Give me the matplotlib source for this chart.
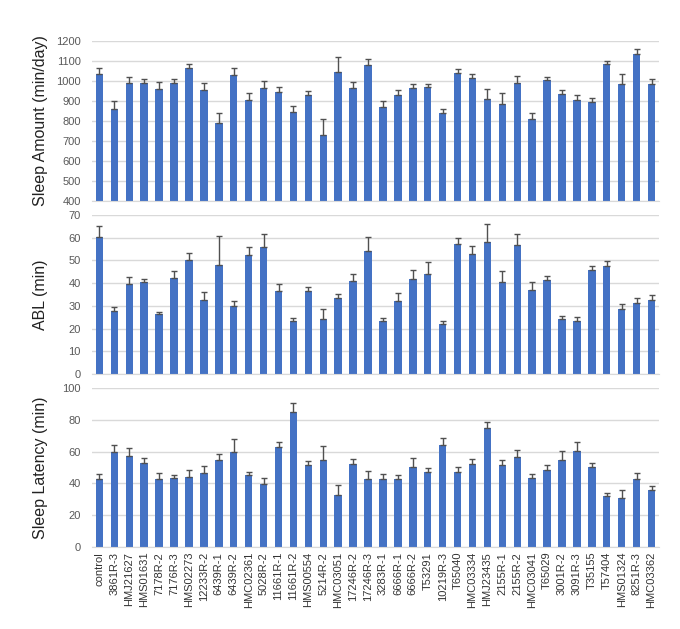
import numpy as np
import matplotlib.pyplot as plt

plt.rcParams['font.family'] = ['Liberation Sans', 'DejaVu Sans']

# strain names along the x axis
strains = ['control', '3861R-3', 'HMJ21627', 'HMS01631', '7178R-2', '7176R-3',
           'HMS02273', '12233R-2', '6439R-1', '6439R-2', 'HMC02361', '5028R-2',
           '11661R-1', '11661R-2', 'HMS00554', '5214R-2', 'HMC03051', '17246R-2',
           '17246R-3', '3283R-1', '6666R-1', '6666R-2', 'T53291', '10219R-3',
           'T65040', 'HMC03334', 'HMJ23435', '2155R-1', '2155R-2', 'HMC03041',
           'T65029', '3001R-2', '3091R-3', 'T35155', 'T57404', 'HMS01324',
           '8251R-3', 'HMC03362']

# sleep amount (min/day) and its upper error
sleep_amount = [1035, 862, 992, 992, 960, 990, 1067, 955, 792, 1030, 907, 967,
                945, 847, 930, 730, 1045, 965, 1080, 870, 932, 965, 970, 840,
                1042, 1015, 910, 885, 990, 812, 1005, 935, 905, 895, 1085, 987,
                1137, 985]
sleep_amount_err = [32, 36, 30, 20, 33, 18, 16, 37, 48, 33, 31, 33,
                    23, 30, 18, 82, 75, 28, 28, 28, 25, 18, 15, 18,
                    16, 18, 48, 53, 33, 28, 17, 22, 23, 18, 13, 48,
                    21, 23]

# ABL (min)
abl = [60.1, 27.7, 39.8, 40.4, 26.3, 42.3, 50.0, 32.5, 47.9, 29.9, 52.2, 55.8,
       36.4, 23.4, 36.6, 24.1, 33.4, 40.8, 54.1, 23.3, 32.2, 41.7, 44.0, 22.0,
       57.1, 52.7, 57.9, 40.5, 56.6, 36.9, 41.3, 24.1, 23.4, 45.7, 47.4, 28.5,
       31.2, 32.5]
abl_err = [5.2, 2.0, 2.9, 1.5, 1.1, 2.9, 3.4, 3.5, 13.0, 2.4, 3.7, 6.0,
           3.3, 1.3, 1.7, 4.6, 1.9, 3.1, 6.3, 1.4, 3.5, 4.1, 5.5, 1.4,
           2.9, 3.8, 8.0, 5.0, 5.0, 3.8, 1.9, 1.5, 1.8, 1.9, 2.5, 2.5,
           2.3, 2.3]

# sleep latency (min)
latency = [42.8, 59.5, 57.4, 52.8, 42.8, 43.4, 44.3, 46.6, 54.7, 59.7, 45.3, 39.5,
           62.8, 84.8, 51.6, 54.7, 32.4, 52.4, 43.0, 42.8, 42.8, 50.5, 47.4, 64.1,
           47.4, 52.0, 74.7, 51.6, 56.6, 43.6, 48.6, 54.9, 60.3, 50.3, 32.2, 30.9,
           42.8, 35.9]
latency_err = [2.9, 4.4, 4.6, 2.9, 3.5, 1.9, 3.9, 4.1, 3.5, 7.9, 1.9, 4.1,
               3.4, 6.0, 2.3, 9.0, 6.4, 2.7, 4.6, 2.9, 2.3, 5.2, 2.1, 4.4,
               2.9, 3.1, 4.2, 2.9, 4.6, 2.1, 3.0, 5.2, 5.5, 2.3, 1.6, 5.0,
               3.5, 2.3]

panels = [
    (sleep_amount, sleep_amount_err, 'Sleep Amount (min/day)', (400, 1200), 100),
    (abl, abl_err, 'ABL (min)', (0, 70), 10),
    (latency, latency_err, 'Sleep Latency (min)', (0, 100), 20),
]

bar_color = '#4472C4'
grid_color = '#d9d9d9'
text_color = '#595959'

fig = plt.figure(figsize=(6.8, 6.29), dpi=100)
boxes = [[0.1353, 0.6804, 0.8338, 0.2544],
         [0.1353, 0.4054, 0.8338, 0.2528],
         [0.1353, 0.1304, 0.8338, 0.2528]]

x = np.arange(len(strains))

for i, (vals, errs, label, ylim, step) in enumerate(panels):
    ax = fig.add_axes(boxes[i])
    vals = np.array(vals)
    bottom = ylim[0]
    ax.bar(x, vals - bottom, bottom=bottom, width=0.5, color=bar_color, zorder=2)
    ax.errorbar(x, vals, yerr=[np.zeros(len(vals)), errs], fmt='none',
                ecolor='#505050', elinewidth=1, capsize=2.5, capthick=1, zorder=3)
    ax.set_xlim(-0.5, len(strains) - 0.5)
    ax.set_ylim(*ylim)
    ax.set_yticks(np.arange(ylim[0], ylim[1] + 1, step))
    ax.yaxis.grid(True, color=grid_color, linewidth=1, zorder=0)
    ax.set_axisbelow(True)
    for s in ['top', 'right', 'left']:
        ax.spines[s].set_visible(False)
    ax.spines['bottom'].set_color(grid_color)
    ax.tick_params(axis='y', length=0, labelsize=8, labelcolor=text_color, pad=8)
    ax.tick_params(axis='x', length=0)
    ax.set_ylabel(label, fontsize=11.5, color='#222222')
    ax.yaxis.set_label_coords(-0.078, 0.5)
    if i < 2:
        ax.set_xticks([])
    else:
        ax.set_xticks(x)
        ax.set_xticklabels(strains, rotation=90, fontsize=8, color='#333333')

fig.savefig('out.png', dpi=100)
